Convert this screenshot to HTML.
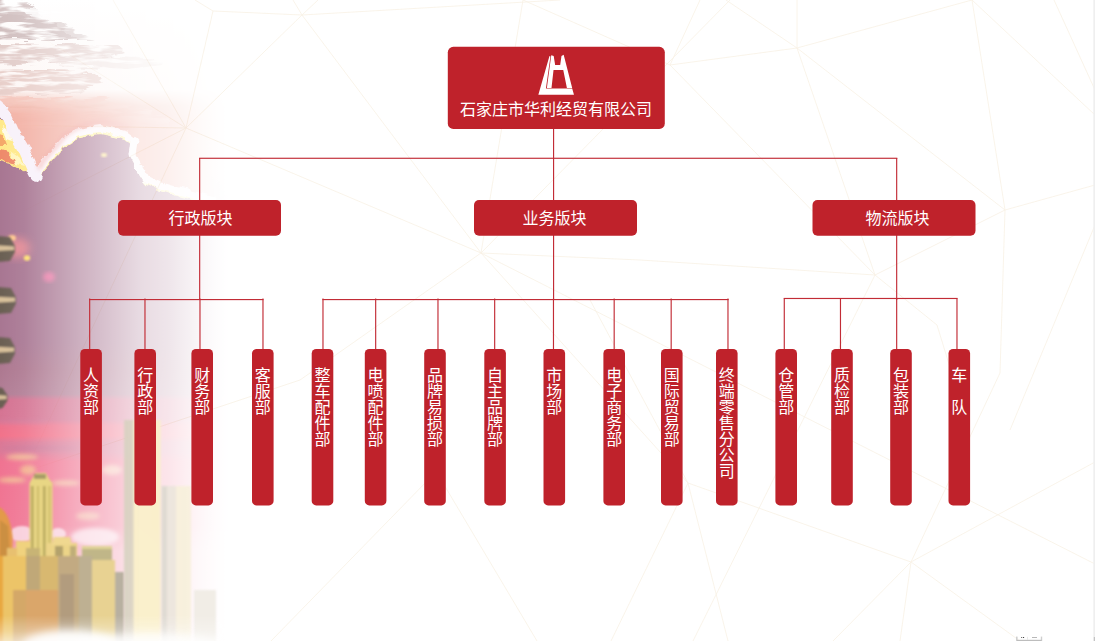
<!DOCTYPE html>
<html lang="zh"><head><meta charset="utf-8"><title>组织架构</title>
<style>
html,body{margin:0;padding:0;background:#fff;}
body{width:1095px;height:641px;position:relative;overflow:hidden;font-family:"Liberation Sans",sans-serif;}
svg.main{position:absolute;left:0;top:0;display:block;}
.t{position:absolute;color:transparent;font-size:16px;line-height:16px;white-space:nowrap;overflow:hidden;font-family:"Liberation Sans",sans-serif;}
</style></head><body>
<svg class="main" width="1095" height="641" viewBox="0 0 1095 641">
<defs>
<linearGradient id="sky" x1="0" y1="0" x2="0" y2="641" gradientUnits="userSpaceOnUse">
<stop offset="0" stop-color="#ffffff"/>
<stop offset="0.14" stop-color="#fdf6f4"/>
<stop offset="0.165" stop-color="#f1bfb3"/>
<stop offset="0.19" stop-color="#f2b0a4"/>
<stop offset="0.27" stop-color="#f2b0a4"/>
<stop offset="0.31" stop-color="#a87692"/>
<stop offset="0.535" stop-color="#a87692"/>
<stop offset="0.575" stop-color="#ad7890"/>
<stop offset="0.615" stop-color="#b27e96"/>
<stop offset="0.624" stop-color="#d47392"/>
<stop offset="0.655" stop-color="#d67594"/>
<stop offset="0.664" stop-color="#ee728c"/>
<stop offset="0.68" stop-color="#f2728a"/>
<stop offset="0.69" stop-color="#dc7896"/>
<stop offset="0.705" stop-color="#dc7a98"/>
<stop offset="0.72" stop-color="#f07391"/>
<stop offset="0.82" stop-color="#f07694"/>
<stop offset="0.86" stop-color="#f4a0b4"/>
<stop offset="1" stop-color="#f4a0b4"/>
</linearGradient>
<linearGradient id="fadeH" x1="0" y1="0" x2="240" y2="0" gradientUnits="userSpaceOnUse">
<stop offset="0" stop-color="#fff"/>
<stop offset="0.10" stop-color="#ebebeb"/>
<stop offset="0.20" stop-color="#c4c4c4"/>
<stop offset="0.33" stop-color="#949494"/>
<stop offset="0.46" stop-color="#6b6b6b"/>
<stop offset="0.58" stop-color="#444444"/>
<stop offset="0.70" stop-color="#303030"/>
<stop offset="0.75" stop-color="#242424"/>
<stop offset="0.83" stop-color="#111111"/>
<stop offset="0.90" stop-color="#050505"/>
<stop offset="0.95" stop-color="#000"/>
<stop offset="1" stop-color="#000"/>
</linearGradient>
<linearGradient id="fadeV" x1="0" y1="0" x2="0" y2="641" gradientUnits="userSpaceOnUse">
<stop offset="0" stop-color="#fff"/>
<stop offset="0.96" stop-color="#fff"/>
<stop offset="0.985" stop-color="#b0b0b0"/>
<stop offset="1" stop-color="#686868"/>
</linearGradient>
<mask id="mH" maskUnits="userSpaceOnUse" x="0" y="0" width="300" height="641"><rect width="300" height="641" fill="url(#fadeH)"/></mask>
<mask id="mV" maskUnits="userSpaceOnUse" x="0" y="0" width="300" height="641"><rect width="300" height="641" fill="url(#fadeV)"/></mask>
<filter id="b1" x="-20%" y="-20%" width="140%" height="140%"><feGaussianBlur stdDeviation="0.8"/></filter>
<filter id="b2" x="-20%" y="-20%" width="140%" height="140%"><feGaussianBlur stdDeviation="2"/></filter>
<filter id="b4" x="-30%" y="-30%" width="160%" height="160%"><feGaussianBlur stdDeviation="4"/></filter>
<filter id="b8" x="-40%" y="-40%" width="180%" height="180%"><feGaussianBlur stdDeviation="8"/></filter>
<filter id="b14" x="-50%" y="-50%" width="200%" height="200%"><feGaussianBlur stdDeviation="14"/></filter>
<filter id="rough" x="-10%" y="-10%" width="120%" height="120%"><feTurbulence type="fractalNoise" baseFrequency="0.11" numOctaves="3" seed="7" result="n"/><feDisplacementMap in="SourceGraphic" in2="n" scale="6" xChannelSelector="R" yChannelSelector="G"/><feGaussianBlur stdDeviation="0.7"/></filter>
<filter id="streak" x="-10%" y="-30%" width="120%" height="160%"><feTurbulence type="fractalNoise" baseFrequency="0.035 0.22" numOctaves="3" seed="3" result="n"/><feDisplacementMap in="SourceGraphic" in2="n" scale="10" xChannelSelector="R" yChannelSelector="G" result="d"/><feColorMatrix in="n" type="matrix" values="0 0 0 0 0  0 0 0 0 0  0 0 0 0 0  0 0 4.5 0 -1.45" result="al"/><feComposite in="d" in2="al" operator="in"/><feGaussianBlur stdDeviation="0.6"/></filter>
</defs>
<rect width="1095" height="641" fill="#fff"/>
<g stroke="#f2e6cf" stroke-width="0.8" fill="none" opacity="0.55">
<line x1="186" y1="128" x2="113" y2="0"/>
<line x1="186" y1="128" x2="0" y2="11"/>
<line x1="186" y1="128" x2="0" y2="125"/>
<line x1="186" y1="128" x2="0" y2="223"/>
<line x1="186" y1="128" x2="0" y2="525"/>
<line x1="186" y1="128" x2="481" y2="253"/>
<line x1="186" y1="128" x2="302" y2="15"/>
<line x1="186" y1="128" x2="213" y2="11"/>
<line x1="213" y1="11" x2="302" y2="15"/>
<line x1="213" y1="11" x2="195" y2="0"/>
<line x1="302" y1="15" x2="293" y2="0"/>
<line x1="302" y1="15" x2="318" y2="0"/>
<line x1="302" y1="15" x2="560" y2="0"/>
<line x1="302" y1="15" x2="481" y2="253"/>
<line x1="481" y1="253" x2="523" y2="0"/>
<line x1="481" y1="253" x2="300" y2="380"/>
<line x1="481" y1="253" x2="688" y2="483"/>
<line x1="481" y1="253" x2="640" y2="260"/>
<line x1="523" y1="0" x2="670" y2="65"/>
<line x1="481" y1="253" x2="730" y2="0"/>
<line x1="481" y1="253" x2="1095" y2="564"/>
<line x1="670" y1="65" x2="797" y2="48"/>
<line x1="670" y1="65" x2="700" y2="0"/>
<line x1="797" y1="48" x2="972" y2="0"/>
<line x1="797" y1="48" x2="1005" y2="210"/>
<line x1="797" y1="48" x2="726" y2="0"/>
<line x1="797" y1="48" x2="797" y2="0"/>
<line x1="1005" y1="210" x2="972" y2="0"/>
<line x1="1005" y1="210" x2="1095" y2="185"/>
<line x1="1005" y1="210" x2="875" y2="275"/>
<line x1="875" y1="275" x2="640" y2="260"/>
<line x1="875" y1="275" x2="797" y2="48"/>
<line x1="1005" y1="210" x2="1000" y2="373"/>
<line x1="1000" y1="373" x2="911" y2="562"/>
<line x1="875" y1="275" x2="937" y2="325"/>
<line x1="937" y1="325" x2="960" y2="400"/>
<line x1="1095" y1="225" x2="1010" y2="430"/>
<line x1="875" y1="275" x2="693" y2="641"/>
<line x1="972" y1="0" x2="1095" y2="115"/>
<line x1="670" y1="65" x2="875" y2="275"/>
<line x1="0" y1="480" x2="300" y2="380"/>
<line x1="688" y1="483" x2="590" y2="300"/>
<line x1="1054" y1="0" x2="1095" y2="90"/>
<line x1="688" y1="483" x2="611" y2="641"/>
<line x1="688" y1="483" x2="728" y2="641"/>
<line x1="688" y1="483" x2="911" y2="562"/>
<line x1="911" y1="562" x2="833" y2="641"/>
<line x1="911" y1="562" x2="900" y2="641"/>
<line x1="911" y1="562" x2="1020" y2="641"/>
<line x1="911" y1="562" x2="1095" y2="462"/>
<line x1="440" y1="478" x2="537" y2="641"/>
<line x1="430" y1="478" x2="271" y2="641"/>
</g>
<g mask="url(#mV)">
<g mask="url(#mH)">
<rect width="300" height="641" fill="url(#sky)"/>
<g filter="url(#streak)">
<path d="M-10 -10 L10 -10 L78 40 L-10 40Z" fill="#d6c6c6"/>
<path d="M-10 14 L60 22 L95 40 L-10 40Z" fill="#cfbdbd" opacity="0.7"/>
<path d="M-10 44 L118 46 L125 52 L100 60 L40 62 L-10 64Z" fill="#e2cdca"/>
<path d="M45 56 L150 58 L165 64 L120 70 L60 66Z" fill="#ecdcd9" opacity="0.8"/>
<path d="M-10 70 L95 72 L105 82 L80 92 L-10 96Z" fill="#e8cfca"/>
<path d="M-10 96 L105 99 L150 111 L170 119 L170 128 L-10 128Z" fill="#f5c6bc"/>
<path d="M20 8 L70 12 L60 18 L25 15Z" fill="#fff" opacity="0.8"/>
</g>
<path d="M-10 110 L60 108 L120 113 L160 122 L215 140 L215 215 L-10 215Z" fill="#f3b2a6" filter="url(#b4)" opacity="0.95"/>
<g filter="url(#rough)">
<path d="M-12 98 L0 107.5 L7 117 L13 131 L24 150 L31 166 L36 176 L40 168 L47 160 L55 151 L62 142 L70 137 L78 133 L90 130 L100 128.5 L112 131 L126 135 L134 141 L132 155 L139 168 L146 179 L161 186 L175 190 L215 200 L300 210 L300 336 L-12 336Z" fill="#a87692"/>
<path d="M-12 118 L6 122 L14 138 L24 156 L32 172 L22 171 L10 164 L-12 158Z" fill="#ffe98a"/>
<path d="M-12 128 L2 134 L6 146 L-12 146Z" fill="#f4a868"/>
<path d="M-12 146 L8 152 L18 164 L6 162 L-12 156Z" fill="#ee8a6a"/>
<path d="M2 126 L8 130 L12 142 L6 140Z" fill="#fffbe8"/>
<path d="M10 150 L18 156 L24 166 L16 164Z" fill="#fff6c0"/>
<path d="M36 176 L40 168 L47 160 L55 151 L62 142 L70 137 L78 133 L90 130 L100 128.5 L112 131 L126 135 L134 141 L132 155 L139 168 L146 179 L161 186 L175 190 L215 200" fill="none" stroke="#fff29a" stroke-width="4" stroke-linejoin="round" transform="translate(0.5 3.5)"/>
<path d="M36 176 L40 168 L47 160 L55 151 L62 142 L70 137 L78 133 L90 130 L100 128.5 L112 131 L126 135 L134 141 L132 155 L139 168 L146 179 L161 186 L175 190 L215 200" fill="none" stroke="#fdf7fb" stroke-width="7" stroke-linejoin="round"/>
<path d="M-12 98 L0 107.5 L7 117 L13 131 L24 150 L31 166 L36 176" fill="none" stroke="#f8f1fa" stroke-width="11.5" stroke-linejoin="round" stroke-linecap="round"/>
</g>
<path d="M36 176 L40 168 L47 160 L55 151 L62 142 L70 137 L78 133 L90 130 L100 128.5 L112 131 L126 135" fill="none" stroke="#ee9a98" stroke-width="4" stroke-linejoin="round" transform="translate(3 -7)" filter="url(#b2)" opacity="0.6"/>
<ellipse cx="17" cy="248" rx="13" ry="10" fill="#ee8f96" filter="url(#b4)" opacity="0.85"/>
<ellipse cx="27" cy="258" rx="3.2" ry="2.8" fill="#ffe070" filter="url(#b1)"/>
<ellipse cx="12" cy="238" rx="4" ry="3" fill="#ffc890" filter="url(#b1)"/>
<ellipse cx="49" cy="277" rx="6" ry="5" fill="#f07aa8" filter="url(#b2)" opacity="0.9"/>
<ellipse cx="104" cy="155" rx="3" ry="2" fill="#ffe890" filter="url(#b1)"/>
<g filter="url(#b1)">
<path d="M-3 236 L10 237 L15 245.88 L15 252.12 L10 261 L-3 262Z" fill="#6a5f52"/>
<path d="M-3 245.36 L14 246.4 L14 250.04 L-3 251.08Z" fill="#d8c09a"/>
<path d="M-3 287 L11 288 L16 297.26 L16 303.74 L11 313 L-3 314Z" fill="#6a5f52"/>
<path d="M-3 296.72 L15 297.8 L15 301.58 L-3 302.66Z" fill="#d8c09a"/>
<path d="M-3 337 L10 338 L15 347.26 L15 353.74 L10 363 L-3 364Z" fill="#6a5f52"/>
<path d="M-3 346.72 L14 347.8 L14 351.58 L-3 352.66Z" fill="#d8c09a"/>
<path d="M-3 387 L2.5 388 L7.5 395.36 L7.5 400.64 L2.5 408 L-3 409Z" fill="#6a5f52"/>
<path d="M-3 394.92 L6.5 395.8 L6.5 398.88 L-3 399.76Z" fill="#d8c09a"/>
</g>
<g filter="url(#b2)" opacity="0.8">
<ellipse cx="22" cy="457" rx="16" ry="3" fill="#f4c898"/>
<ellipse cx="12" cy="480" rx="14" ry="2.5" fill="#f4d098"/>
<ellipse cx="28" cy="470" rx="8" ry="5" fill="#f4c090"/>
<ellipse cx="66" cy="483" rx="14" ry="2.5" fill="#f6d0a8"/>
<ellipse cx="112" cy="470" rx="10" ry="5" fill="#f8d0b8"/>
<ellipse cx="88" cy="516" rx="12" ry="4" fill="#f6c0a8"/>
</g>
<g filter="url(#b2)" opacity="0.5">
<ellipse cx="40" cy="448" rx="40" ry="2.5" fill="#c0789a"/>
<ellipse cx="20" cy="422" rx="30" ry="2" fill="#d080a0"/>
</g>
<ellipse cx="22" cy="534" rx="12" ry="8" fill="#f9cfdc" filter="url(#b1)"/>
<ellipse cx="58" cy="534" rx="8" ry="6" fill="#f9cfdc" filter="url(#b1)"/>
<ellipse cx="95" cy="537" rx="24" ry="9" fill="#f9d2de" filter="url(#b2)"/>
</g>
<g filter="url(#b1)">
<path d="M-2 507 Q9 510 12.5 536 L12.5 560 L-2 560Z" fill="#e39a48"/>
<path d="M0 520 L8 526 L10 560 L0 560Z" fill="#c08a40" opacity="0.7"/>
<path d="M33 477 L36 473 L46 473 L49 479 L52.5 483 L52.5 560 L29.5 560 L29.5 483Z" fill="#e8d684"/>
<rect x="31" y="486" width="2.5" height="80" fill="#b8a85e"/><rect x="37" y="486" width="2" height="80" fill="#cdbb6a"/><rect x="43" y="486" width="2.5" height="80" fill="#b8a85e"/><rect x="48.5" y="486" width="2" height="80" fill="#cdbb6a"/>
<rect x="34" y="474" width="12" height="5" fill="#a89c68"/>
<rect x="16" y="541" width="14" height="30" fill="#f0d27e"/>
<rect x="7" y="548" width="10" height="30" fill="#e8c070"/>
<rect x="26" y="548" width="14" height="20" fill="#c8b474"/>
<rect x="46" y="543" width="31" height="30" fill="#ecd488"/>
<path d="M54 537 L70 537 L72 545 L52 545Z" fill="#f0d890"/>
<rect x="55" y="546" width="8" height="20" fill="#b4a26c"/><rect x="70" y="546" width="6" height="20" fill="#c0ae78"/>
<rect x="82" y="546" width="30" height="20" rx="2" fill="#c0b688"/>
<rect x="82" y="546" width="30" height="3" fill="#e0d498"/>
<rect x="-2" y="556" width="5" height="90" fill="#e8a840"/>
<rect x="3" y="556" width="23" height="90" fill="#ecc468"/>
<rect x="13" y="590" width="14" height="56" fill="#d4a868"/>
<rect x="26" y="556" width="14" height="34" fill="#c0a878"/>
<rect x="40" y="556" width="18" height="34" fill="#d8b870"/>
<rect x="26" y="590" width="32" height="56" fill="#daa66a"/>
<rect x="58" y="556" width="21" height="90" fill="#c2aa82"/>
<rect x="60" y="574" width="14" height="60" fill="#b29c7e"/>
<rect x="79" y="556" width="13" height="90" fill="#beb092"/>
<rect x="92" y="560" width="23" height="86" fill="#e8d292"/>
<rect x="115" y="572" width="9" height="74" fill="#b8b0a0"/>
</g>
<g filter="url(#b1)">
<rect x="124" y="420" width="10" height="230" fill="#d6d2c0" opacity="0.85"/>
<rect x="133.5" y="420" width="27" height="230" fill="#faf0ca" opacity="0.95"/>
<rect x="161.5" y="486" width="6" height="160" fill="#dedad2" opacity="0.95"/>
<rect x="167" y="486" width="9.5" height="160" fill="#ece6dc" opacity="0.95"/>
<rect x="176" y="486" width="15" height="160" fill="#f8f0dc" opacity="0.95"/>
<rect x="194" y="590" width="22" height="60" fill="#f1ede6"/>
</g>
<ellipse cx="70" cy="646" rx="48" ry="16" fill="#fff" filter="url(#b4)" opacity="0.95"/><ellipse cx="150" cy="650" rx="80" ry="16" fill="#fff" filter="url(#b4)" opacity="0.8"/>
</g>
<rect x="1093.3" y="0" width="2" height="641" fill="#efefef"/>
<rect x="1016" y="636.6" width="1.6" height="5" fill="#cfcfcf"/><rect x="1040.8" y="636.6" width="1.4" height="5" fill="#cfcfcf"/>
<rect x="1017" y="639.8" width="24.5" height="1.4" fill="#bdbdbd"/><rect x="1027" y="636.8" width="0.8" height="3" fill="#e4e4e4"/>
<rect x="1021.2" y="637" width="1" height="1" fill="#555"/><rect x="1023" y="637" width="1.1" height="1" fill="#444"/><rect x="1032" y="637" width="5" height="0.9" fill="#b0b0b0"/>
<rect x="1093.8" y="637" width="1.4" height="4" fill="#c4c4c4"/>
<g fill="#c22c36">
<rect x="553.00" y="128.00" width="1.15" height="172.00" />
<rect x="199.10" y="157.70" width="698.20" height="1.15" />
<rect x="199.10" y="158.00" width="1.15" height="142.00" />
<rect x="896.10" y="158.00" width="1.15" height="142.00" />
<rect x="89.10" y="299.00" width="174.40" height="1.15" />
<rect x="322.40" y="299.00" width="406.20" height="1.15" />
<rect x="783.70" y="297.90" width="173.90" height="1.15" />
<rect x="89.10" y="298.50" width="1.15" height="51.50" />
<rect x="144.40" y="298.50" width="1.15" height="51.50" />
<rect x="199.40" y="298.50" width="1.15" height="51.50" />
<rect x="262.40" y="298.50" width="1.15" height="51.50" />
<rect x="322.40" y="298.50" width="1.15" height="51.50" />
<rect x="375.10" y="298.50" width="1.15" height="51.50" />
<rect x="437.40" y="298.50" width="1.15" height="51.50" />
<rect x="494.10" y="298.50" width="1.15" height="51.50" />
<rect x="552.90" y="298.50" width="1.15" height="51.50" />
<rect x="613.60" y="298.50" width="1.15" height="51.50" />
<rect x="670.60" y="298.50" width="1.15" height="51.50" />
<rect x="727.40" y="298.50" width="1.15" height="51.50" />
<rect x="783.70" y="298.50" width="1.15" height="51.50" />
<rect x="839.90" y="298.50" width="1.15" height="51.50" />
<rect x="896.10" y="298.50" width="1.15" height="51.50" />
<rect x="956.40" y="298.50" width="1.15" height="51.50" />
</g>
<g fill="#bf222b">
<rect x="447.8" y="46.8" width="217" height="82.1" rx="5.5"/>
<rect x="118.0" y="200" width="163" height="35.7" rx="5"/>
<rect x="474.0" y="200" width="163" height="35.7" rx="5"/>
<rect x="812.5" y="200" width="163" height="35.7" rx="5"/>
<rect x="80.3" y="349" width="21.6" height="156.4" rx="4.5"/>
<rect x="134.4" y="349" width="21.6" height="156.4" rx="4.5"/>
<rect x="191.4" y="349" width="21.6" height="156.4" rx="4.5"/>
<rect x="252.0" y="349" width="21.6" height="156.4" rx="4.5"/>
<rect x="311.7" y="349" width="21.6" height="156.4" rx="4.5"/>
<rect x="364.8" y="349" width="21.6" height="156.4" rx="4.5"/>
<rect x="424.2" y="349" width="21.6" height="156.4" rx="4.5"/>
<rect x="484.3" y="349" width="21.6" height="156.4" rx="4.5"/>
<rect x="543.5" y="349" width="21.6" height="156.4" rx="4.5"/>
<rect x="603.4" y="349" width="21.6" height="156.4" rx="4.5"/>
<rect x="661.0" y="349" width="21.6" height="156.4" rx="4.5"/>
<rect x="716.0" y="349" width="21.6" height="156.4" rx="4.5"/>
<rect x="775.4" y="349" width="21.6" height="156.4" rx="4.5"/>
<rect x="831.2" y="349" width="21.6" height="156.4" rx="4.5"/>
<rect x="890.2" y="349" width="21.6" height="156.4" rx="4.5"/>
<rect x="948.5" y="349" width="21.6" height="156.4" rx="4.5"/>
</g>
<svg x="530" y="48" width="52" height="52" viewBox="0 0 641 641"><g fill="#fff">
<path d="M240 100 L252 104 L196 500 L520 500 L542 577 L103 577 Z"/>
<path d="M262 88 L292 100 L310 210 L372 210 L388 98 L415 84 L520 494 L455 494 L410 270 L290 270 L265 494 L208 494 Z"/>
</g></svg>
<g fill="#fff" font-size="16" font-family="&quot;Liberation Sans&quot;, &quot;Noto Sans CJK SC&quot;, sans-serif">
<text x="556" y="115.28" text-anchor="middle">石家庄市华利经贸有限公司</text>
<text x="200.4" y="223.58" text-anchor="middle">行政版块</text>
<text x="554.5" y="223.58" text-anchor="middle">业务版块</text>
<text x="897.4" y="223.58" text-anchor="middle">物流版块</text>
<text x="83.1 83.1 83.1" y="381.48 397.48 413.48">人资部</text>
<text x="137.2 137.2 137.2" y="381.48 397.48 413.48">行政部</text>
<text x="194.2 194.2 194.2" y="381.48 397.48 413.48">财务部</text>
<text x="254.8 254.8 254.8" y="381.48 397.48 413.48">客服部</text>
<text x="314.5 314.5 314.5 314.5 314.5" y="381.48 397.48 413.48 429.48 445.48">整车配件部</text>
<text x="367.6 367.6 367.6 367.6 367.6" y="381.48 397.48 413.48 429.48 445.48">电喷配件部</text>
<text x="427 427 427 427 427" y="381.48 397.48 413.48 429.48 445.48">品牌易损部</text>
<text x="487.1 487.1 487.1 487.1 487.1" y="381.48 397.48 413.48 429.48 445.48">自主品牌部</text>
<text x="546.3 546.3 546.3" y="381.48 397.48 413.48">市场部</text>
<text x="606.2 606.2 606.2 606.2 606.2" y="381.48 397.48 413.48 429.48 445.48">电子商务部</text>
<text x="663.8 663.8 663.8 663.8 663.8" y="381.48 397.48 413.48 429.48 445.48">国际贸易部</text>
<text x="718.8 718.8 718.8 718.8 718.8 718.8 718.8" y="381.48 397.48 413.48 429.48 445.48 461.48 477.48">终端零售分公司</text>
<text x="778.2 778.2 778.2" y="381.48 397.48 413.48">仓管部</text>
<text x="834 834 834" y="381.48 397.48 413.48">质检部</text>
<text x="893 893 893" y="381.48 397.48 413.48">包装部</text>
<text x="951.3 951.3" y="381.48 413.48">车队</text>
</g>
</svg>
<div class="t" style="left:460px;top:101px;width:192px;height:18px;">石家庄市华利经贸有限公司</div>
<div class="t" style="left:168px;top:209px;width:64px;height:18px;">行政版块</div>
<div class="t" style="left:522px;top:209px;width:64px;height:18px;">业务版块</div>
<div class="t" style="left:865px;top:209px;width:64px;height:18px;">物流版块</div>
<div class="t" style="left:82px;top:366px;width:18px;height:130px;writing-mode:vertical-rl;">人资部</div>
<div class="t" style="left:136px;top:366px;width:18px;height:130px;writing-mode:vertical-rl;">行政部</div>
<div class="t" style="left:193px;top:366px;width:18px;height:130px;writing-mode:vertical-rl;">财务部</div>
<div class="t" style="left:254px;top:366px;width:18px;height:130px;writing-mode:vertical-rl;">客服部</div>
<div class="t" style="left:314px;top:366px;width:18px;height:130px;writing-mode:vertical-rl;">整车配件部</div>
<div class="t" style="left:367px;top:366px;width:18px;height:130px;writing-mode:vertical-rl;">电喷配件部</div>
<div class="t" style="left:426px;top:366px;width:18px;height:130px;writing-mode:vertical-rl;">品牌易损部</div>
<div class="t" style="left:486px;top:366px;width:18px;height:130px;writing-mode:vertical-rl;">自主品牌部</div>
<div class="t" style="left:546px;top:366px;width:18px;height:130px;writing-mode:vertical-rl;">市场部</div>
<div class="t" style="left:605px;top:366px;width:18px;height:130px;writing-mode:vertical-rl;">电子商务部</div>
<div class="t" style="left:663px;top:366px;width:18px;height:130px;writing-mode:vertical-rl;">国际贸易部</div>
<div class="t" style="left:718px;top:366px;width:18px;height:130px;writing-mode:vertical-rl;">终端零售分公司</div>
<div class="t" style="left:777px;top:366px;width:18px;height:130px;writing-mode:vertical-rl;">仓管部</div>
<div class="t" style="left:833px;top:366px;width:18px;height:130px;writing-mode:vertical-rl;">质检部</div>
<div class="t" style="left:892px;top:366px;width:18px;height:130px;writing-mode:vertical-rl;">包装部</div>
<div class="t" style="left:950px;top:366px;width:18px;height:130px;writing-mode:vertical-rl;">车 队</div>
</body></html>
